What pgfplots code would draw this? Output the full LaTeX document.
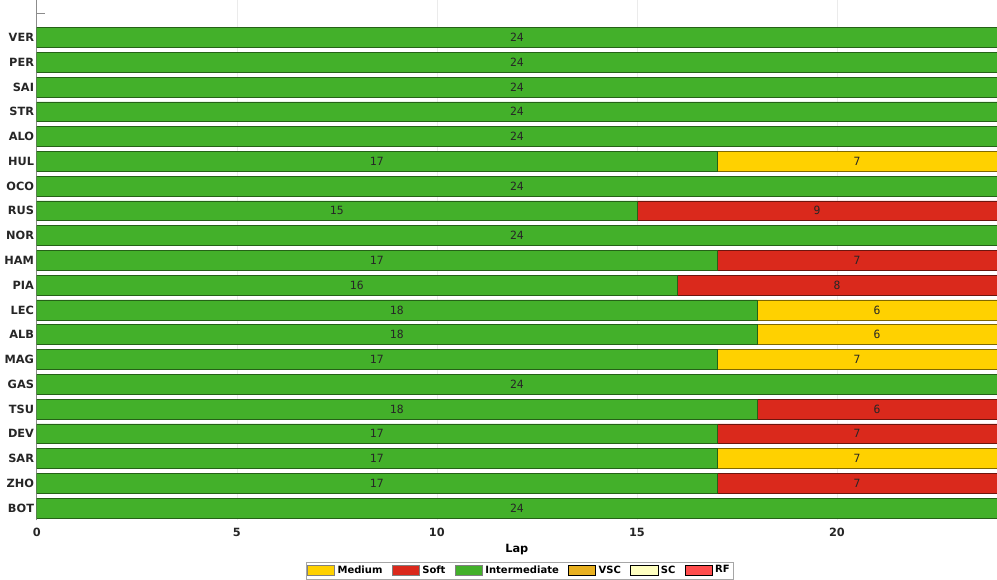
\documentclass[border=0pt]{standalone}
\usepackage{fontspec}
\setmainfont{DejaVu Sans}
\newfontfamily\valfont{DejaVu Sans Mono}
\usepackage{pgfplots}
\usepackage{pgfplotstable}
\pgfplotsset{compat=1.18}
\definecolor{medium}{HTML}{FFD100}
\definecolor{soft}{HTML}{DA291C}
\definecolor{inter}{HTML}{43B02A}
\definecolor{vsc}{HTML}{E8B020}
\definecolor{sc}{HTML}{FFFFC0}
\definecolor{rf}{HTML}{FF4D4D}

% stints, bottom row first (y=0 is BOT)
\pgfplotstableread{
y inter medium soft
0 24 0 0
1 17 0 7
2 17 7 0
3 17 0 7
4 18 0 6
5 24 0 0
6 17 7 0
7 18 6 0
8 18 6 0
9 16 0 8
10 17 0 7
11 24 0 0
12 15 0 9
13 24 0 0
14 17 7 0
15 24 0 0
16 24 0 0
17 24 0 0
18 24 0 0
19 24 0 0
}\stints

\begin{document}
\begin{tikzpicture}
\begin{axis}[
  scale only axis,
  width=720pt, height=390pt,
  xbar stacked, bar width=0.8,
  xmin=0, xmax=24, ymin=-0.5, ymax=20.5,
  xtick={0,5,10,15,20},
  ytick={0,...,20},
  yticklabels={BOT,ZHO,SAR,DEV,TSU,GAS,MAG,ALB,LEC,PIA,HAM,NOR,RUS,OCO,HUL,ALO,STR,SAI,PER,VER,{}},
  tick label style={font=\bfseries\fontsize{8.5}{10}\selectfont, text=black!85},
  yticklabel style={xshift=1.5pt},
  xticklabel style={yshift=-2pt},
  /pgf/number format/assume math mode=true,
  xlabel={Lap}, xlabel style={font=\bfseries\fontsize{8.5}{10}\selectfont, yshift=1pt},
  xmajorgrids, grid style={black!8},
  axis lines*=left,
  x axis line style={draw=none},
  y axis line style={black!45},
  major tick length=6pt,
  xtick style={draw=none},
  ytick style={black!45},
  ytick pos=left, tick align=inside,
  legend style={at={(0.503,-0.079)}, anchor=north, legend columns=-1,
    draw=black!35, font=\bfseries\fontsize{7.5}{8.5}\selectfont,
    inner sep=0.8pt, /tikz/every even column/.append style={column sep=5pt}},
  legend image code/.code={\path[#1] (0cm,-0.12cm) rectangle (0.72cm,0.13cm);},
  nodes near coords={\pgfmathfloatifflags{\pgfplotspointmeta}{0}{}{\pgfmathprintnumber{\pgfplotspointmeta}}},
  point meta=rawx,
  every node near coord/.append style={anchor=center, font=\valfont\fontsize{8.5}{9}\selectfont,
    text=black!85},
]
\addlegendimage{fill=medium, draw=black!50}
\addlegendimage{fill=soft, draw=black!50}
\addlegendimage{fill=inter, draw=black!50}
\addlegendimage{fill=vsc}
\addlegendimage{fill=sc}
\addlegendimage{fill=rf}
\addplot[fill=inter, draw=inter!55!black] table[x=inter, y=y] {\stints};
\addplot[fill=medium, draw=medium!50!black] table[x=medium, y=y] {\stints};
\addplot[fill=soft, draw=soft!50!black] table[x=soft, y=y] {\stints};
\legend{Medium, Soft, Intermediate, VSC, SC, RF}
\end{axis}
\end{tikzpicture}
\end{document}
